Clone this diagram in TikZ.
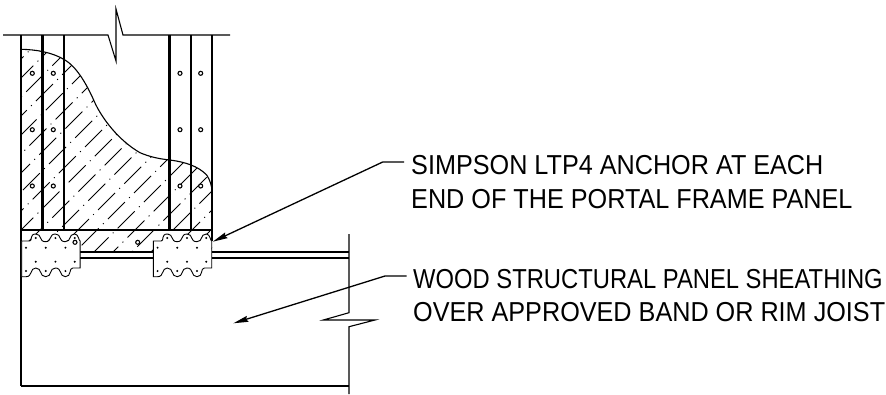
\documentclass[tikz,border=0pt]{standalone}
\usepackage{fontspec}
\newfontfamily\cadfont[FakeStretch=0.92]{Liberation Sans}
\newfontfamily\cadnarrow[FakeStretch=0.868]{Liberation Sans}
\usetikzlibrary{arrows.meta}
\tikzset{
    heavy/.style={line width=2.3bp, line cap=butt},
    light/.style={line width=1.1bp},
    hatchline/.style={line width=1bp, dash pattern=on 24bp off 6bp on 1bp off 6bp},
    nailhead/.style={line width=1.1bp, fill=white},
    leader/.style={line width=1.3bp, -{Stealth[length=15bp,width=6bp,inset=1.5bp]}},
    callout/.style={anchor=base west, inner sep=0pt, font=\cadfont\fontsize{27.5}{30}\selectfont},
    calloutlong/.style={callout, font=\cadnarrow\fontsize{27.5}{30}\selectfont},
    anchorplate/.pic={
        \draw[line width=0.9bp, fill=white] (0,0) -- (8,0)
            .. controls (11,0) and (7.5,-7) .. (14,-7)
            .. controls (20.5,-7) and (17,0.7) .. (23.8,0.7)
            .. controls (30.5,0.7) and (27,-7) .. (33.7,-7)
            .. controls (40,-7) and (36.5,0.7) .. (43.5,0.7)
            .. controls (50,0.7) and (46.5,-7) .. (53,-7)
            .. controls (57,-7) and (57,0) .. (58.4,0)
            -- (58.4,27) -- (51,27)
            .. controls (47,27) and (50,35.7) .. (43.7,35.7)
            .. controls (37.5,35.7) and (40.5,27) .. (33.7,27)
            .. controls (27.5,27) and (30.5,35.7) .. (24,35.7)
            .. controls (17.5,35.7) and (20.5,27) .. (14,27)
            .. controls (8,27) and (11,35.7) .. (4.3,35.7)
            -- (0,35.7) -- cycle;
        \foreach \dx in {14,33.7,53} {
            \fill (\dx,-3) circle (1.1bp);
            \fill (\dx,20.7) circle (1.1bp);
        }
        \foreach \dx in {4.3,24,43.7} {
            \fill (\dx,6.7) circle (1.1bp);
            \fill (\dx,30) circle (1.1bp);
        }
    }
}

\begin{document}
\begin{tikzpicture}[x=1bp,y=-1bp]
    \path[use as bounding box] (0,0) rectangle (886,394);

    % concrete hatch
    \begin{scope}
        \clip (21,49.3) .. controls (35,49.5) and (52,52) .. (65,60)
            .. controls (75,66) and (85,80) .. (95,103)
            .. controls (102,118) and (118,140) .. (140,152.7)
            .. controls (150,157) and (160,159) .. (170,160)
            .. controls (185,162) and (198,166) .. (206.7,175)
            .. controls (210,180) and (212,186) .. (212,192)
            -- (212,251.7) -- (21,251.7) -- cycle;
        \foreach \i in {-11,...,12} {
            \draw[hatchline, dash phase=\i*13bp] (\i*19,270) -- (\i*19+250,20);
        }
    \end{scope}
    \draw[light] (21,49.3) .. controls (35,49.5) and (52,52) .. (65,60)
        .. controls (75,66) and (85,80) .. (95,103)
        .. controls (102,118) and (118,140) .. (140,152.7)
        .. controls (150,157) and (160,159) .. (170,160)
        .. controls (185,162) and (198,166) .. (206.7,175)
        .. controls (210,180) and (212,186) .. (212,192);

    % wall break line
    \coordinate (wallL) at (3,35);
    \coordinate (wallR) at (230,35);
    \draw[light] (wallL) -- (108,35) -- (116,61) -- (116,9) -- (123,35) -- (wallR);

    % studs
    \draw[heavy] (21,35) -- (21,385.7);
    \draw[heavy] (42.5,35) -- (42.5,230);
    \draw[heavy] (64,35) -- (64,230);
    \draw[heavy] (169.5,35) -- (169.5,230);
    \draw[heavy] (191,35) -- (191,230);
    \draw[heavy] (212,35) -- (212,241);
    \draw[heavy] (20,230) -- (213,230);

    % nails
    \foreach \nx in {32.3,53.3,180,200.7} {
        \foreach \ny in {73.3,129.7,186} {
            \draw[nailhead] (\nx,\ny) circle (2bp);
        }
    }
    \draw[nailhead] (137.7,242.3) circle (2bp);

    % sheathing and joist
    \draw[heavy] (80,251.7) -- (153.3,251.7);
    \draw[heavy] (80,258.3) -- (153.3,258.3);
    \draw[heavy] (212,251.7) -- (349,251.7);
    \draw[heavy] (212,258.3) -- (349,258.3);
    \draw[heavy] (21,385.7) -- (349,385.7);
    \coordinate (joistT) at (349,234);
    \coordinate (joistB) at (349,394);
    \draw[light] (joistT) -- (349,312.7) -- (323.3,320) -- (375,320) -- (349,326.7) -- (joistB);

    % LTP4 anchors
    \pic at (21.7,241) {anchorplate};
    \pic at (153.3,241) {anchorplate};
    \draw[nailhead] (75,242.3) circle (2bp);

    % callouts
    \node[callout] (simpsonA) at (411,174.3) {SIMPSON LTP4 ANCHOR AT EACH};
    \node[callout] (simpsonB) at (411,208.3) {END OF THE PORTAL FRAME PANEL};
    \node[calloutlong] (woodA) at (413,288.3) {WOOD STRUCTURAL PANEL SHEATHING};
    \node[callout] (woodB) at (413,321.7) {OVER APPROVED BAND OR RIM JOIST};

    \coordinate (simpsonS) at (404,162);
    \coordinate (simpsonE) at (382.7,162);
    \coordinate (simpsonT) at (212.7,241.7);
    \coordinate (woodS) at (406.7,276);
    \coordinate (woodE) at (385,276);
    \coordinate (woodT) at (233.3,323.3);
    \draw[leader] (simpsonS) -- (simpsonE) -- (simpsonT);
    \draw[leader] (woodS) -- (woodE) -- (woodT);
\end{tikzpicture}
\end{document}
